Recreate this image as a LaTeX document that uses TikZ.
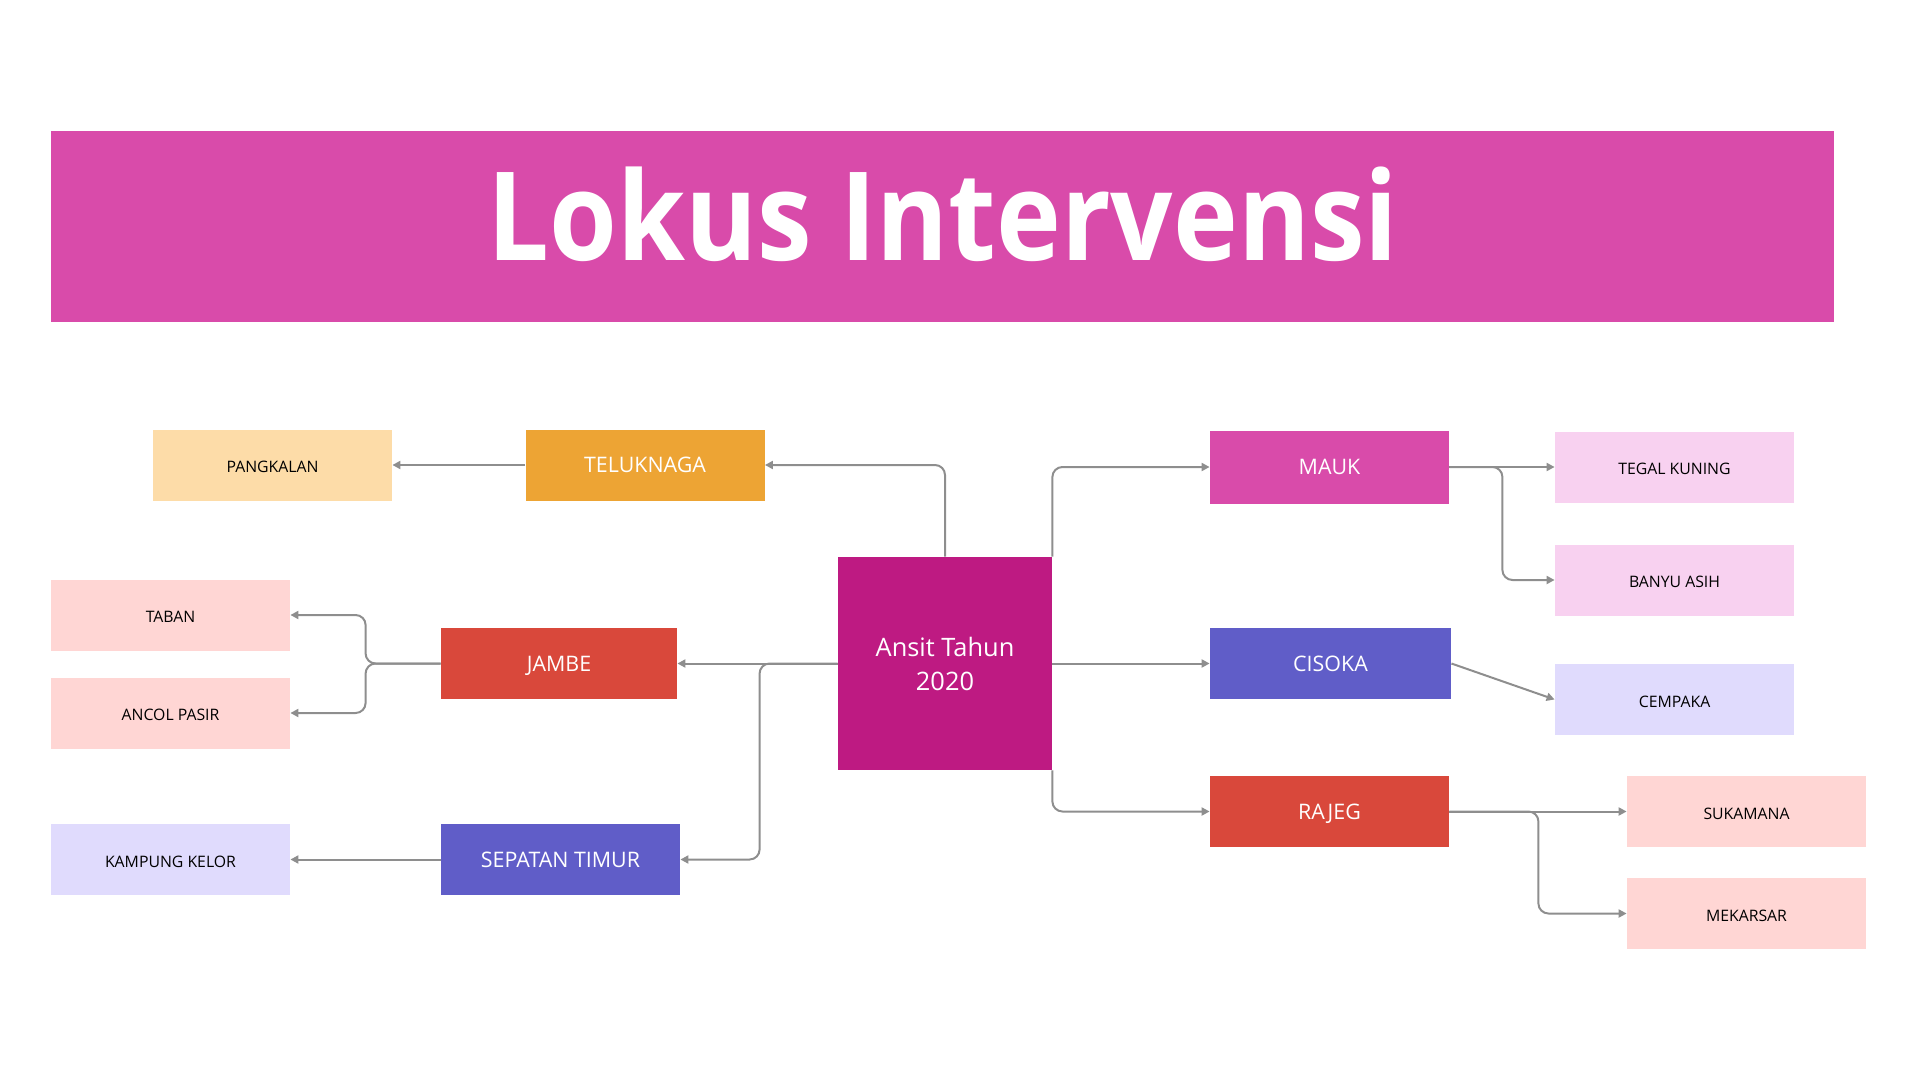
\documentclass[tikz,border=0pt]{standalone}
\usepackage{fontspec}
\setmainfont{Open Sans}
\newfontfamily\titlefont[FakeStretch=0.89]{Open Sans}
\usetikzlibrary{arrows.meta}
\definecolor{bannerpink}{HTML}{D94BAA}
\definecolor{centremag}{HTML}{BE1A82}
\definecolor{orangebox}{HTML}{EDA434}
\definecolor{orangelight}{HTML}{FDDCA8}
\definecolor{redbox}{HTML}{D9483B}
\definecolor{redlight}{HTML}{FFD6D4}
\definecolor{bluebox}{HTML}{605DC8}
\definecolor{bluelight}{HTML}{E0DBFD}
\definecolor{pinklight}{HTML}{F8D1F0}
\definecolor{linkgray}{HTML}{8E8E8E}

\begin{document}
\begin{tikzpicture}[x=0.5pt,y=-0.5pt,
    box/.style={rectangle,inner sep=0pt,minimum width=119.5pt,minimum height=35.5pt,
      text height=1.45ex,text depth=0pt,text=white,font=\fontsize{10.7}{12}\selectfont},
    leaf/.style={box,text=black,font=\fontsize{7.9}{9}\selectfont},
    link/.style={draw=linkgray,line width=1pt,rounded corners=5pt,
      -{Triangle[length=4pt,width=4pt]}}]
  \useasboundingbox (0,0) rectangle (1920,1080);
  % banner
  \fill[bannerpink] (51,131) rectangle (1834,322);
  \node (title) [anchor=base,text=white,inner sep=0pt] at (943,261)
    {\titlefont\bfseries\fontsize{61.6}{70}\selectfont Lokus Intervensi};
  % centre
  \node (centre) [rectangle,inner sep=0pt,fill=centremag,text=white,minimum width=107pt,
    minimum height=106.5pt,align=center,font=\fontsize{12.7}{17}\selectfont]
    at (945,663.5) {Ansit Tahun\\2020};
  % left side
  \node (teluknaga) [box,fill=orangebox] at (645,465) {TELUKNAGA};
  \node (pangkalan) [leaf,fill=orangelight] at (272.5,465) {PANGKALAN};
  \node (jambe) [box,fill=redbox,minimum width=118pt] at (559,663.5) {JAMBE};
  \node (taban) [leaf,fill=redlight] at (170.5,615) {TABAN};
  \node (ancol) [leaf,fill=redlight] at (170.5,713) {ANCOL PASIR};
  \node (sepatan) [box,fill=bluebox] at (560.5,859.5) {SEPATAN TIMUR};
  \node (kelor) [leaf,fill=bluelight] at (170.5,859.5) {KAMPUNG KELOR};
  % right side
  \node (mauk) [box,fill=bannerpink,minimum height=36.5pt] at (1329.5,467) {MAUK};
  \node (tegal) [leaf,fill=pinklight] at (1674.5,467) {TEGAL KUNING};
  \node (banyu) [leaf,fill=pinklight] at (1674.5,580) {BANYU ASIH};
  \node (cisoka) [box,fill=bluebox,minimum width=120.5pt] at (1330.5,663.5) {CISOKA};
  \node (cempaka) [leaf,fill=bluelight] at (1674.5,699.5) {CEMPAKA};
  \node (rajeg) [box,fill=redbox] at (1329.5,811.5) {RAJEG};
  \node (sukamana) [leaf,fill=redlight] at (1746.5,811.5) {SUKAMANA};
  \node (mekarsar) [leaf,fill=redlight] at (1746.5,913.5) {MEKARSAR};
  % connectors
  \draw[link] (centre.north) |- (teluknaga.east);
  \draw[link] (teluknaga.west) -- (pangkalan.east);
  \draw[link] (centre.west) -- (jambe.east);
  \draw[link] (centre.west) -- ++(-78,0) |- (sepatan.east);
  \draw[link] (jambe.west) -- ++(-75,0) |- (taban.east);
  \draw[link] (jambe.west) -- ++(-75,0) |- (ancol.east);
  \draw[link] (sepatan.west) -- (kelor.east);
  \draw[link] (centre.north east) |- (mauk.west);
  \draw[link] (centre.east) -- (cisoka.west);
  \draw[link] (centre.south east) |- (rajeg.west);
  \draw[link] (mauk.east) -- (tegal.west);
  \draw[link] (mauk.east) -- ++(53,0) |- (banyu.west);
  \draw[link] (cisoka.east) -- (cempaka.west);
  \draw[link] (rajeg.east) -- (sukamana.west);
  \draw[link] (rajeg.east) -- ++(89,0) |- (mekarsar.west);
\end{tikzpicture}
\end{document}
